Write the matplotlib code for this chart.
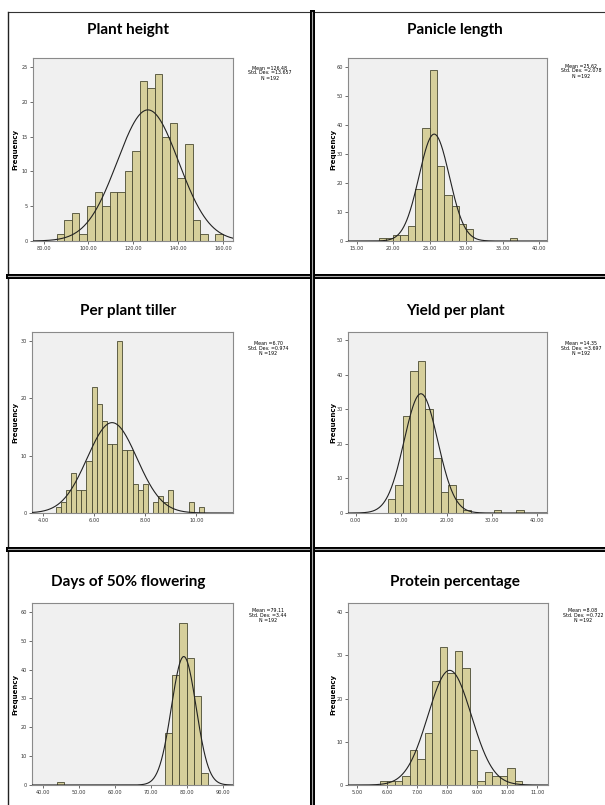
#!/usr/bin/env python3

import numpy as np
import matplotlib.pyplot as plt
from matplotlib.lines import Line2D

# histogram data
titles = ['Plant height', 'Panicle length', 'Per plant tiller',
          'Yield per plant', 'Days of 50% flowering', 'Protein percentage']

height_counts = [1, 3, 4, 1, 5, 7, 5, 7, 7, 10, 13, 23, 22, 24, 15, 17, 9, 14, 3, 1, 0, 1]
panicle_counts = [1, 1, 2, 2, 5, 18, 39, 59, 26, 16, 12, 6, 4, 0, 0, 0, 0, 0, 1]
tiller_counts = [1, 2, 4, 7, 4, 4, 9, 22, 19, 16, 12, 12, 30, 11, 11, 5, 4, 5, 0,
                 2, 3, 2, 4, 0, 0, 0, 2, 0, 1]
yield_counts = [4, 8, 28, 41, 44, 30, 16, 6, 8, 4, 1, 0, 0, 0, 1, 0, 0, 1]
flower_counts = [1, 0, 0, 0, 0, 0, 0, 0, 0, 0, 0, 0, 0, 0, 0, 18, 38, 56, 44, 31, 4]
protein_counts = [1, 1, 1, 2, 8, 6, 12, 24, 32, 26, 31, 27, 8, 1, 3, 2, 2, 4, 1]

bin_starts = [85.9, 18.0, 4.5, 7.0, 43.9, 5.75]
bin_widths = [3.36, 1.0, 0.2, 5 / 3, 2.0, 0.25]

means = [126.48, 25.62, 6.70, 14.35, 79.11, 8.08]
sds = [13.657, 2.078, 0.974, 3.697, 3.44, 0.722]
mean_txt = ['126.48', '25.62', '6.70', '14.35', '79.11', '8.08']
sd_txt = ['13.657', '2.078', '0.974', '3.697', '3.44', '0.722']
n_obs = 192

x_ticks = [[80, 100, 120, 140, 160], [15, 20, 25, 30, 35, 40], [4, 6, 8, 10],
           [0, 10, 20, 30, 40], [40, 50, 60, 70, 80, 90], [5, 6, 7, 8, 9, 10, 11]]
y_ticks = [[0, 5, 10, 15, 20, 25], [0, 10, 20, 30, 40, 50, 60], [0, 10, 20, 30],
           [0, 10, 20, 30, 40, 50], [0, 10, 20, 30, 40, 50, 60], [0, 10, 20, 30, 40]]
x_lims = [(75.3, 164.4), (13.8, 41.1), (3.57, 11.43), (-1.7, 42.1), (36.9, 92.8), (4.7, 11.35)]
y_lims = [26.3, 63.1, 31.5, 52.4, 63.1, 42.1]

all_counts = [height_counts, panicle_counts, tiller_counts,
              yield_counts, flower_counts, protein_counts]

W, H = 605, 805
fig = plt.figure(figsize=(W / 100, H / 100), dpi=100)
fig.patch.set_facecolor('white')


def fx(x):
    return x / W


def fy(y):
    return 1 - y / H


# axes boxes in pixels: left, right, top, bottom
boxes = [(33, 233, 58, 241), (348, 547, 58, 241),
         (32, 233, 332, 513), (348, 547, 332, 513),
         (32, 233, 603, 785), (348, 548, 603, 785)]
title_pos = [(128, 30), (455, 30), (128, 311), (455, 311), (128, 582), (455, 582)]
stats_pos = [(270, 73), (581, 71), (268, 348), (581, 348), (268, 615), (583, 615)]
freq_x = [15, 333, 15, 333, 15, 333]

for i in range(6):
    l, r, t, b = boxes[i]
    ax = fig.add_axes([fx(l), fy(b), fx(r - l), (b - t) / H])
    ax.set_facecolor('#f0f0f0')
    counts = np.array(all_counts[i])
    edges = bin_starts[i] + bin_widths[i] * np.arange(len(counts) + 1)
    ax.bar(edges[:-1], counts, width=bin_widths[i], align='edge',
           color='#d6cf9b', edgecolor='#4a4a32', linewidth=0.6, zorder=2)
    xs = np.linspace(x_lims[i][0], x_lims[i][1], 400)
    ys = n_obs * bin_widths[i] / (sds[i] * np.sqrt(2 * np.pi)) * \
        np.exp(-0.5 * ((xs - means[i]) / sds[i]) ** 2)
    ax.plot(xs, ys, color='#222222', linewidth=0.8, zorder=3)
    ax.set_xlim(*x_lims[i])
    ax.set_ylim(0, y_lims[i])
    ax.set_xticks(x_ticks[i])
    ax.set_xticklabels(['%.2f' % v for v in x_ticks[i]])
    ax.set_yticks(y_ticks[i])
    ax.tick_params(labelsize=3.6, length=2, width=0.5, pad=1.5, colors='#333333')
    for s in ax.spines.values():
        s.set_color('#8a8a8a')
        s.set_linewidth(0.8)
    fig.text(fx(freq_x[i]), fy((t + b) / 2), 'Frequency', rotation=90,
             fontsize=5, fontweight='bold', ha='center', va='center')
    fig.text(fx(title_pos[i][0]), fy(title_pos[i][1]), titles[i],
             fontsize=11, fontweight='bold', family='Lato', ha='center', va='center')
    fig.text(fx(stats_pos[i][0]), fy(stats_pos[i][1]),
             'Mean =%s\nStd. Dev. =%s\nN =%d' % (mean_txt[i], sd_txt[i], n_obs),
             fontsize=3.4, ha='center', va='center', linespacing=1.0)

# panel frame lines
fig.add_artist(Line2D([fx(8), fx(605)], [fy(12), fy(12)], color='#333333', lw=0.8))
fig.add_artist(Line2D([fx(8), fx(8)], [fy(12), fy(805)], color='#222222', lw=1.0))
for y in [276, 549]:
    fig.add_artist(Line2D([fx(8), fx(605)], [fy(y), fy(y)], color='black', lw=3.6))
    fig.add_artist(Line2D([fx(8), fx(605)], [fy(y), fy(y)], color='#aaaaaa', lw=0.8))
fig.add_artist(Line2D([fx(312.5), fx(312.5)], [fy(12), fy(805)], color='black', lw=3.6))
fig.add_artist(Line2D([fx(312.5), fx(312.5)], [fy(12), fy(805)], color='#aaaaaa', lw=0.8))

fig.savefig('out.png', dpi=100)
